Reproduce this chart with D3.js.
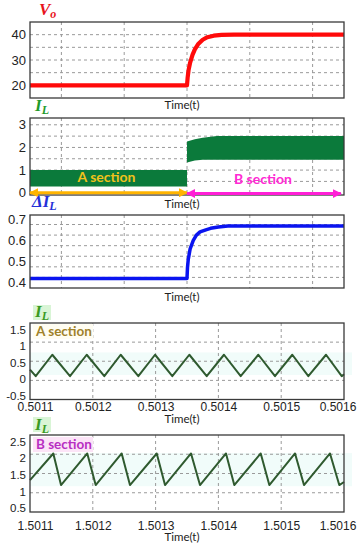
<!DOCTYPE html>
<html><head><meta charset="utf-8">
<script src="https://cdn.jsdelivr.net/npm/d3@7"></script>
<style>body{margin:0;background:#fff}svg{display:block}</style>
</head><body>
<script>
// ---------- DATA ----------
// Panel 1: output voltage Vo (time in arbitrary units, step at t = 1.0)
const voTime  = [0, 1.0, 1.004, 1.01, 1.02, 1.035, 1.05, 1.07, 1.1, 1.13, 1.17, 1.22, 1.3, 2.0];
const voValue = [20, 20, 23, 26, 29, 32, 34.2, 36.2, 38, 39, 39.6, 39.9, 40, 40];
const voTicks = [20, 30, 40];

// Panel 2: inductor current IL envelope (ripple band)
const ilTime  = [0, 1.0, 1.0, 1.05, 1.1, 1.19, 2.0];
const ilUpper = [1.0, 1.0, 2.26, 2.36, 2.43, 2.51, 2.51];
const ilLower = [0.28, 0.28, 1.34, 1.42, 1.46, 1.46, 1.46];
const ilTicks = [0, 1, 2, 3];
const sectionNames = ["A section", "B section"];
const sectionStart = [0, 1.0];
const sectionEnd   = [1.0, 1.98];

// Panel 3: ripple ΔIL
const dilTime  = [0, 1.0, 1.003, 1.008, 1.02, 1.04, 1.06, 1.083, 1.12, 1.15, 1.2, 1.26, 2.0];
const dilValue = [0.42, 0.42, 0.47, 0.51, 0.56, 0.60, 0.625, 0.64, 0.65, 0.657, 0.663, 0.668, 0.668];
const dilTicks = [0.4, 0.5, 0.6, 0.7];

// Panel 4: IL zoom, A section
const aTime = [0.5011, 0.5011091, 0.5011355, 0.5011637, 0.5011903, 0.5012183, 0.5012444, 0.5012725,
  0.5012991, 0.5013266, 0.5013537, 0.5013814, 0.5014089, 0.5014355, 0.5014636, 0.5014901,
  0.5015177, 0.5015432, 0.5015714, 0.5015964, 0.5016];
const aCurrent = [0.28, 0.11, 0.67, 0.11, 0.67, 0.11, 0.67, 0.11, 0.67, 0.11, 0.67, 0.11, 0.67,
  0.11, 0.67, 0.11, 0.67, 0.11, 0.67, 0.11, 0.16];
const aTicks = [-0.5, 0, 0.5, 1, 1.5];
const aTimeTicks = [0.5011, 0.5012, 0.5013, 0.5014, 0.5015, 0.5016];

// Panel 5: IL zoom, B section
const bTime = [1.5011, 1.5011371, 1.5011494, 1.5011912, 1.5012046, 1.5012460, 1.5012592, 1.5013018,
  1.5013150, 1.5013564, 1.5013707, 1.5014121, 1.5014253, 1.5014674, 1.5014811, 1.5015220,
  1.5015363, 1.5015777, 1.5015925, 1.5016];
const bCurrent = [1.33, 2.02, 1.2, 2.02, 1.2, 2.02, 1.2, 2.02, 1.2, 2.02, 1.2, 2.02, 1.2, 2.02, 1.2,
  2.02, 1.2, 2.02, 1.2, 1.28];
const bTicks = [0.5, 1, 1.5, 2, 2.5];
const bTimeTicks = [1.5011, 1.5012, 1.5013, 1.5014, 1.5015, 1.5016];

// ---------- DRAWING ----------
const W = 361, H = 550;
const svg = d3.select("body").append("svg").attr("width", W).attr("height", H)
  .style("font-family", "Lato, 'Open Sans', sans-serif");

const defs = svg.append("defs");
function marker(id, color) {
  defs.append("marker").attr("id", id).attr("viewBox", "0 0 10 10")
    .attr("refX", 9).attr("refY", 5).attr("markerUnits", "userSpaceOnUse")
    .attr("markerWidth", 9).attr("markerHeight", 9).attr("orient", "auto-start-reverse")
    .append("path").attr("d", "M0,0 L10,5 L0,10 z").attr("fill", color);
}
marker("arrA", "#ffb400");
marker("arrB", "#ff1fd6");

const X0 = 30, X1 = 344;
const fmt = d => String(d);

function panel(o) {
  const g = svg.append("g");
  const x = d3.scaleLinear().domain(o.xDomain).range([X0, X1]);
  const y = d3.scaleLinear().domain(o.yDomain).range([o.y1, o.y0]);
  // faint background highlight
  if (o.hl) {
    g.append("rect").attr("x", X0).attr("width", X1 - X0 + 8)
      .attr("y", y(o.hl[1])).attr("height", y(o.hl[0]) - y(o.hl[1]))
      .attr("fill", "#f1fcfa");
  }
  // grid
  g.append("g").selectAll("line").data(o.yGrid).join("line")
    .attr("x1", X0).attr("x2", X1).attr("y1", d => y(d)).attr("y2", d => y(d))
    .attr("stroke", "#9a9a9a").attr("stroke-width", 1).attr("stroke-dasharray", "3,3");
  g.append("g").selectAll("line").data(o.xGrid).join("line")
    .attr("y1", o.y0).attr("y2", o.y1).attr("x1", d => x(d)).attr("x2", d => x(d))
    .attr("stroke", "#9a9a9a").attr("stroke-width", 1).attr("stroke-dasharray", "3,3");
  // y axis labels (zoom panels keep their labels slightly inset from the frame)
  const ly = o.inset ? d3.scaleLinear().domain(o.yDomain).range([o.y1 - 4, o.y0 + 6.5]) : y;
  const ya = g.append("g").attr("transform", `translate(${X0 - 3},0)`)
    .call(d3.axisLeft(ly).tickValues(o.yTicks).tickFormat(fmt).tickSize(0).tickPadding(1));
  ya.select(".domain").remove();
  ya.selectAll(".tick text").attr("fill", "#222").style("font-size", o.yFont + "px");
  o.g = g; o.x = x; o.y = y;
  return o;
}
function frame(o) {
  o.g.append("rect").attr("x", X0).attr("y", o.y0).attr("width", X1 - X0).attr("height", o.y1 - o.y0)
    .attr("fill", "none").attr("stroke", "#3a3a3a").attr("stroke-width", 1.3);
}
function timeLabel(yb) {
  svg.append("text").attr("x", 182).attr("y", yb).attr("text-anchor", "middle")
    .style("font-size", "11.5px").attr("fill", "#222").text("Time(t)");
}
function symbol(xp, yb, color, parts, bg) {
  if (bg) svg.append("rect").attr("x", bg[0]).attr("y", bg[1]).attr("width", bg[2]).attr("height", bg[3]).attr("fill", "#d9f5d6");
  const t = svg.append("text").attr("x", xp).attr("y", yb).attr("fill", color)
    .style("font-family", "'Liberation Serif', 'DejaVu Serif', serif")
    .style("font-style", "italic").style("font-weight", "bold").style("font-size", "17px");
  t.append("tspan").text(parts[0]);
  t.append("tspan").attr("dy", 3).style("font-size", "12px").text(parts[1]);
}

const mainGridX = [0.2, 0.6, 1.0, 1.4, 1.8];

// Panel 1
const p1 = panel({y0: 22, y1: 98, xDomain: [0, 2], yDomain: [15, 45], yTicks: voTicks,
  yGrid: [20, 25, 30, 35, 40], xGrid: mainGridX, yFont: 13});
p1.g.append("path").datum(d3.range(voTime.length))
  .attr("d", d3.line().x(i => p1.x(voTime[i])).y(i => p1.y(voValue[i])))
  .attr("fill", "none").attr("stroke", "#ff0a0a").attr("stroke-width", 4.2).attr("stroke-linejoin", "round");
frame(p1);
symbol(39, 15, "#e8141c", ["V", "o"]);
timeLabel(109);

// Panel 2
const p2 = panel({y0: 118, y1: 195, xDomain: [0, 2], yDomain: [-0.1, 3.3], yTicks: ilTicks,
  yGrid: [0.5, 1, 1.5, 2, 2.5, 3], xGrid: mainGridX, yFont: 13});
p2.g.append("path").datum(d3.range(ilTime.length))
  .attr("d", d3.area().x(i => p2.x(ilTime[i])).y0(i => p2.y(ilLower[i])).y1(i => p2.y(ilUpper[i])))
  .attr("fill", "#0b7a3b");
frame(p2);
const secColor = ["#ffb400", "#ff1fd6"];
const secText = ["#f2c21a", "#ff2ad4"];
sectionNames.forEach((name, i) => {
  p2.g.append("line").attr("x1", p2.x(sectionStart[i])).attr("x2", p2.x(sectionEnd[i]))
    .attr("y1", p2.y(0) + i * 0.8).attr("y2", p2.y(0) + i * 0.8)
    .attr("stroke", secColor[i]).attr("stroke-width", 3)
    .attr("marker-start", `url(#arr${"AB"[i]})`).attr("marker-end", `url(#arr${"AB"[i]})`);
  p2.g.append("text").attr("x", p2.x((sectionStart[i] + sectionEnd[i]) / 2) - (i ? 1 : 2))
    .attr("y", i ? 184 : 182).attr("text-anchor", "middle")
    .style("font-size", "14px").style("font-weight", "bold").attr("fill", secText[i]).text(name);
});
symbol(35, 111, "#1f9a2a", ["I", "L"]);
timeLabel(208);

// Panel 3
const p3 = panel({y0: 215, y1: 288, xDomain: [0, 2], yDomain: [0.375, 0.72], yTicks: dilTicks,
  yGrid: [0.425, 0.475, 0.525, 0.575, 0.625, 0.675], xGrid: mainGridX, yFont: 13});
p3.g.append("path").datum(d3.range(dilTime.length))
  .attr("d", d3.line().x(i => p3.x(dilTime[i])).y(i => p3.y(dilValue[i])))
  .attr("fill", "none").attr("stroke", "#0a14f0").attr("stroke-width", 3.5).attr("stroke-linejoin", "round");
frame(p3);
symbol(32, 207, "#2430d8", ["\u0394I", "L"]);
timeLabel(301);

// Zoom panels
function zoomPanel(o, times, vals, tticks, label, labelColor, labelBg, labelY) {
  const p = panel(o);
  p.g.append("path").datum(d3.range(times.length))
    .attr("d", d3.line().x(i => p.x(times[i])).y(i => p.y(vals[i])))
    .attr("fill", "none").attr("stroke", "#2f5a2f").attr("stroke-width", 2).attr("stroke-linejoin", "round");
  frame(p);
  const xa = p.g.append("g").attr("transform", `translate(0,${p.y1})`)
    .call(d3.axisBottom(p.x).tickValues(tticks).tickFormat(d3.format(".4f")).tickSize(0).tickPadding(o.tp));
  xa.select(".domain").remove();
  xa.selectAll(".tick text").attr("fill", "#222").style("font-size", "12px")
    .attr("x", d => Math.max(X0 + 5, Math.min(X1 - 6.5, p.x(d))) - p.x(d));
  p.g.append("rect").attr("x", 33).attr("y", labelY - 12).attr("width", 60).attr("height", 15)
    .attr("fill", labelBg);
  p.g.append("text").attr("x", 36).attr("y", labelY).style("font-size", "13.5px").style("font-weight", "bold")
    .attr("fill", labelColor).text(label);
  return p;
}
zoomPanel({y0: 323, y1: 399.5, xDomain: [0.5011, 0.5016], yDomain: [-0.5, 1.5], yTicks: aTicks,
  yGrid: [0, 0.5, 1], xGrid: [0.5012, 0.5013, 0.5014, 0.5015], yFont: 11.5, hl: [0.14, 0.73], tp: 3, inset: true},
  aTime, aCurrent, aTimeTicks, sectionNames[0], "#a0822a", "#fffdf2", 336);
symbol(35, 430, "#3a9a22", ["I", "L"], [33, 417, 18, 15]);
timeLabel(423);

zoomPanel({y0: 435, y1: 512, xDomain: [1.5011, 1.5016], yDomain: [0.5, 2.5], yTicks: bTicks,
  yGrid: [1, 1.5, 2], xGrid: [1.5012, 1.5013, 1.5014, 1.5015], yFont: 11.5, hl: [1.17, 2.03], tp: 9, inset: true},
  bTime, bCurrent, bTimeTicks, sectionNames[1], "#b82fc2", "#fce4f7", 449);
symbol(35, 317, "#3a9a22", ["I", "L"], [33, 305, 18, 15]);
timeLabel(541);
</script>
</body></html>
